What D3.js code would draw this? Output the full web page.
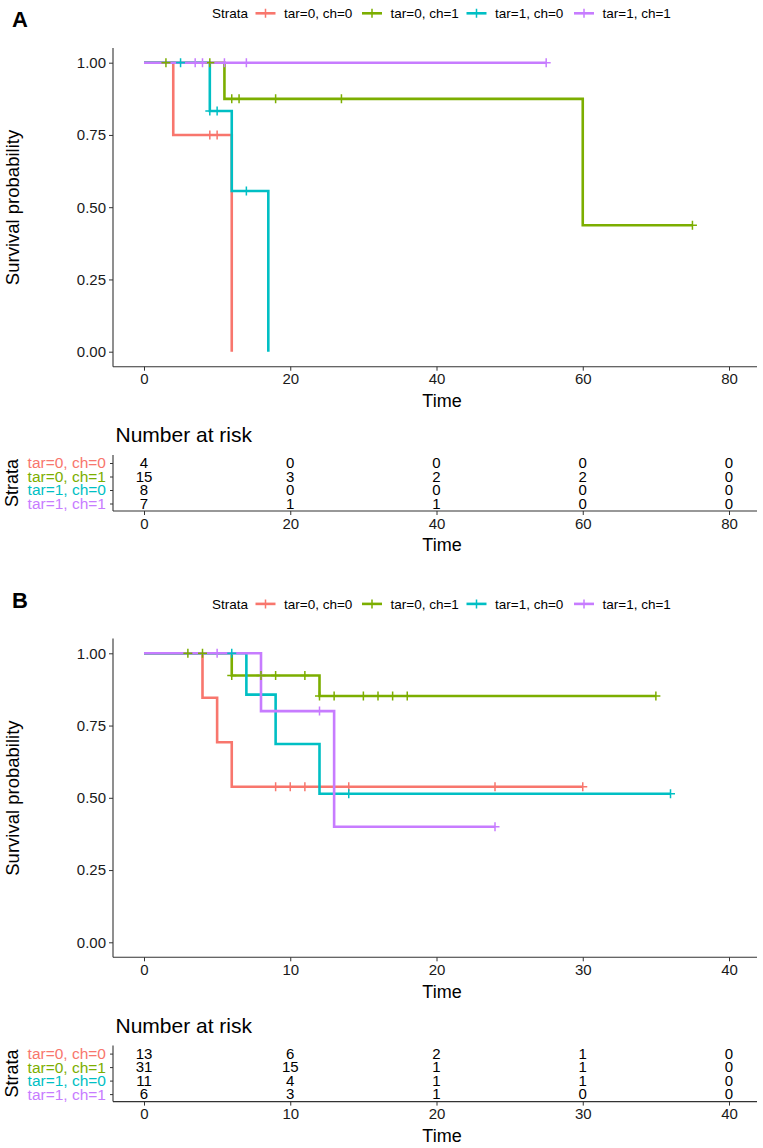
<!DOCTYPE html>
<html>
<head>
<meta charset="utf-8">
<script src="https://cdn.jsdelivr.net/npm/d3@7"></script>
<style>
body { margin: 0; background: #fff; }
text { font-family: 'Liberation Sans', Arial, Helvetica, sans-serif; }
</style>
</head>
<body>
<main></main>
<script>
// Strata
const strata = ['tar=0, ch=0', 'tar=0, ch=1', 'tar=1, ch=0', 'tar=1, ch=1']

// Panel A: KM steps, end of follow-up, censored times, number at risk
const stepTimesA = [[0, 4, 12], [0, 11, 60], [0, 9, 12, 17], [0]]
const stepSurvA = [[1, 0.75, 0], [1, 0.875, 0.4375], [1, 0.833, 0.556, 0], [1]]
const endTimesA = [12, 75, 17, 55]
const censorTimesA = [[9, 10], [3, 9, 12, 13, 18, 27, 75], [5, 9, 10, 14], [7, 8, 11, 14, 55]]
const xTicksA = [0, 20, 40, 60, 80]
const riskA = [[4, 0, 0, 0, 0], [15, 3, 2, 2, 0], [8, 0, 0, 0, 0], [7, 1, 1, 0, 0]]

// Panel B
const stepTimesB = [[0, 4, 5, 6], [0, 6, 12], [0, 7, 9, 12], [0, 8, 13]]
const stepSurvB = [[1, 0.846, 0.692, 0.538], [1, 0.923, 0.852], [1, 0.857, 0.686, 0.514], [1, 0.8, 0.4]]
const endTimesB = [30, 35, 36, 24]
const censorTimesB = [[9, 10, 11, 14, 24, 30], [3, 4, 6, 8, 9, 11, 12, 13, 15, 16, 17, 18, 35], [6, 14, 36], [5, 12, 24]]
const xTicksB = [0, 10, 20, 30, 40]
const riskB = [[13, 6, 2, 1, 0], [31, 15, 1, 1, 0], [11, 4, 1, 1, 0], [6, 3, 1, 0, 0]]

const yTicks = [0, 0.25, 0.5, 0.75, 1]

function GeneratePlot() {
    const width = 763
    const height = 1148
    const palette = ['#F8766D', '#7CAE00', '#00BFC4', '#C77CFF']
    const axisColor = '#333'
    const left = 113
    const right = 757

    const svg = d3.select('main')
        .append('svg')
        .attr('width', width)
        .attr('height', height)

    const plus = 'M-4.5,0H4.5M0,-4.5V4.5'

    const panel = cfg => {
        const g = svg.append('g')
            .attr('transform', `translate(0,${cfg.offset})`)

        const x = d3.scaleLinear()
            .domain(d3.extent(cfg.xTicks))
            .range([144, 729])
        const y = d3.scaleLinear()
            .domain([0, 1])
            .range([351.7, 62.7])

        // panel letter
        g.append('text')
            .text(cfg.label)
            .attr('x', 12)
            .attr('y', cfg.labelY)
            .attr('font-size', 22)
            .attr('font-weight', 'bold')

        // legend
        const legend = g.append('g')
            .attr('transform', `translate(0,${cfg.legendY})`)
        legend.append('text')
            .text('Strata')
            .attr('x', 212)
            .attr('dy', '0.35em')
            .attr('font-size', 13.5)
        const keyX = [265.5, 372, 476.5, 584]
        const keys = legend.selectAll('g.key')
            .data(strata)
            .enter()
            .append('g')
            .attr('transform', (d, i) => `translate(${keyX[i]},0)`)
        keys.append('line')
            .attr('x1', -10)
            .attr('x2', 10)
            .attr('stroke', (d, i) => palette[i])
            .attr('stroke-width', 2.6)
        keys.append('path')
            .attr('d', plus)
            .attr('stroke', (d, i) => palette[i])
            .attr('stroke-width', 1.5)
        keys.append('text')
            .text(d => d)
            .attr('x', 18.5)
            .attr('dy', '0.35em')
            .attr('font-size', 13.5)

        // curves
        const line = d3.line()
            .x(d => x(d[0]))
            .y(d => y(d[1]))
            .curve(d3.curveStepAfter)
        const surv = (i, t) => cfg.surv[i][d3.bisectRight(cfg.times[i], t) - 1]

        strata.forEach((s, i) => {
            const pts = cfg.times[i].map((t, j) => [t, cfg.surv[i][j]])
            pts.push([cfg.ends[i], cfg.surv[i][cfg.surv[i].length - 1]])
            g.append('path')
                .datum(pts)
                .attr('d', line)
                .attr('fill', 'none')
                .attr('stroke', palette[i])
                .attr('stroke-width', 2.6)
        })
        strata.forEach((s, i) => {
            g.append('g')
                .selectAll('path')
                .data(cfg.censors[i])
                .enter()
                .append('path')
                .attr('d', plus)
                .attr('transform', t => `translate(${x(t)},${y(surv(i, t))})`)
                .attr('stroke', palette[i])
                .attr('stroke-width', 1.5)
        })

        // axes
        const yAxis = g.append('g')
            .attr('transform', `translate(${left},0)`)
            .call(d3.axisLeft(y).tickValues(yTicks).tickFormat(d3.format('.2f')).tickSize(4).tickPadding(3))
        const xAxis = g.append('g')
            .attr('transform', 'translate(0,366.7)')
            .call(d3.axisBottom(x).tickValues(cfg.xTicks).tickSize(4).tickPadding(3))
        ;[yAxis, xAxis].forEach(a => {
            a.select('.domain').remove()
            a.selectAll('line').attr('stroke', axisColor)
            a.selectAll('text').attr('font-size', 15).attr('fill', '#1a1a1a').style('font-family', null)
        })
        g.append('line')
            .attr('x1', left).attr('x2', left)
            .attr('y1', 48).attr('y2', 366.7)
            .attr('stroke', axisColor).attr('stroke-width', 1.1)
        g.append('line')
            .attr('x1', left).attr('x2', right)
            .attr('y1', 366.7).attr('y2', 366.7)
            .attr('stroke', axisColor).attr('stroke-width', 1.1)

        g.append('text')
            .text('Time')
            .attr('x', 442)
            .attr('y', 401)
            .attr('dy', '0.35em')
            .attr('text-anchor', 'middle')
            .attr('font-size', 18)
        g.append('text')
            .text('Survival probability')
            .attr('transform', 'translate(13,207.5) rotate(-90)')
            .attr('dy', '0.35em')
            .attr('text-anchor', 'middle')
            .attr('font-size', 18.5)

        // risk table
        const rows = d3.scalePoint()
            .domain(strata)
            .range([463, 503.5])

        g.append('text')
            .text('Number at risk')
            .attr('x', 115.5)
            .attr('y', 435)
            .attr('dy', '0.35em')
            .attr('font-size', 21)

        const table = g.append('g')
        strata.forEach((s, i) => {
            table.append('g')
                .selectAll('text')
                .data(cfg.risk[i])
                .enter()
                .append('text')
                .text(d => d)
                .attr('x', (d, j) => x(cfg.xTicks[j]))
                .attr('y', rows(s))
                .attr('dy', '0.35em')
                .attr('text-anchor', 'middle')
                .attr('font-size', 15)
        })

        const rowAxis = g.append('g')
            .attr('transform', `translate(${left},0)`)
            .call(d3.axisLeft(rows).tickSize(3).tickPadding(4))
        rowAxis.select('.domain').remove()
        rowAxis.selectAll('line').attr('stroke', axisColor)
        rowAxis.selectAll('text')
            .attr('font-size', 15.5)
            .style('font-family', null)
            .attr('fill', (d, i) => palette[i])

        const tAxis = g.append('g')
            .attr('transform', 'translate(0,511)')
            .call(d3.axisBottom(x).tickValues(cfg.xTicks).tickSize(4).tickPadding(3))
        tAxis.select('.domain').remove()
        tAxis.selectAll('line').attr('stroke', axisColor)
        tAxis.selectAll('text').attr('font-size', 15).attr('fill', '#1a1a1a').style('font-family', null)

        g.append('line')
            .attr('x1', left).attr('x2', left)
            .attr('y1', 455).attr('y2', 511)
            .attr('stroke', axisColor).attr('stroke-width', 1.1)
        g.append('line')
            .attr('x1', left).attr('x2', right)
            .attr('y1', 511).attr('y2', 511)
            .attr('stroke', axisColor).attr('stroke-width', 1.1)

        g.append('text')
            .text('Time')
            .attr('x', 442)
            .attr('y', 545)
            .attr('dy', '0.35em')
            .attr('text-anchor', 'middle')
            .attr('font-size', 18)
        g.append('text')
            .text('Strata')
            .attr('transform', 'translate(12,483) rotate(-90)')
            .attr('dy', '0.35em')
            .attr('text-anchor', 'middle')
            .attr('font-size', 18)
    }

    panel({
        offset: 0, label: 'A', labelY: 27, legendY: 13.3,
        times: stepTimesA, surv: stepSurvA, ends: endTimesA, censors: censorTimesA,
        xTicks: xTicksA, risk: riskA
    })
    panel({
        offset: 590.6, label: 'B', labelY: 17.4, legendY: 13.3,
        times: stepTimesB, surv: stepSurvB, ends: endTimesB, censors: censorTimesB,
        xTicks: xTicksB, risk: riskB
    })
}

GeneratePlot()
</script>
</body>
</html>
